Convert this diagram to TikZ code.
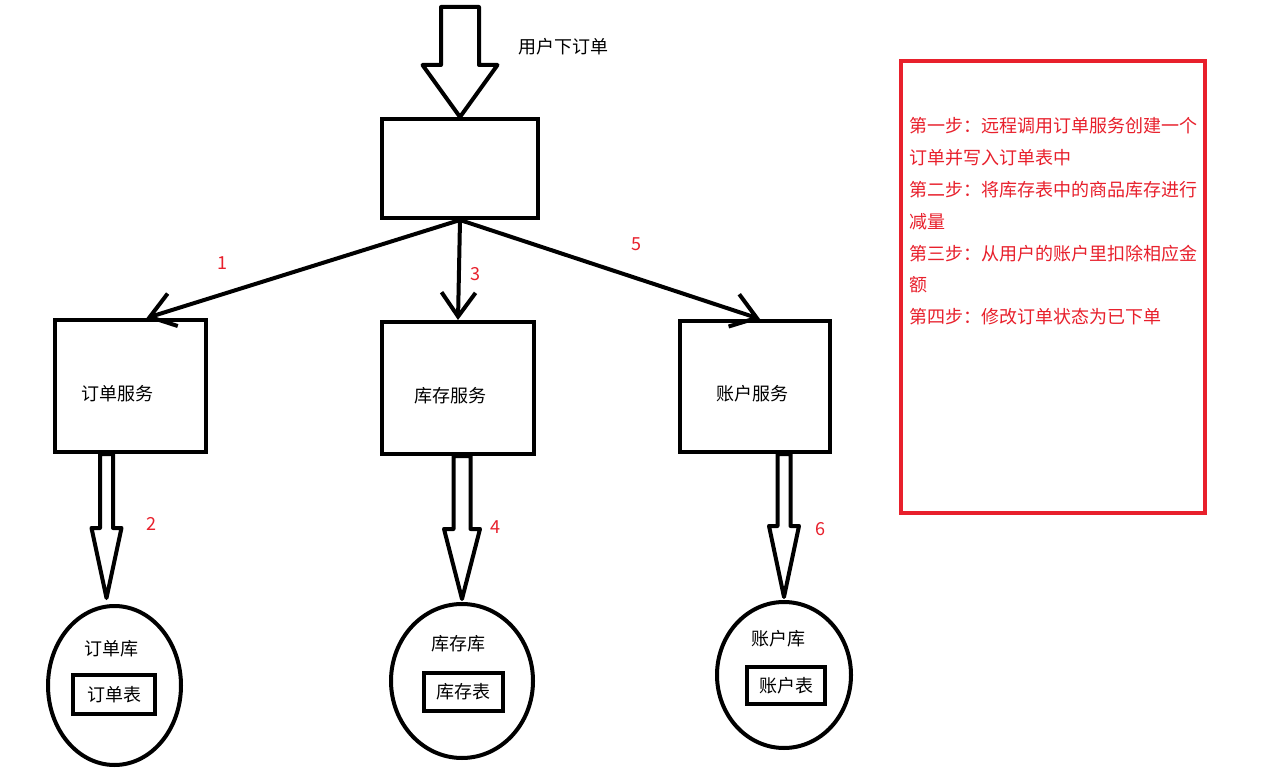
\documentclass[tikz,border=0pt]{standalone}
\usepackage{fontspec}
\setmainfont{Noto Sans CJK SC}
\usepackage{tikz}
\usetikzlibrary{arrows.meta}
\usetikzlibrary{shapes.geometric}
\usetikzlibrary{calc}
\definecolor{stepred}{RGB}{232,32,44}
\tikzset{box/.style = {draw, line width = 4pt, inner sep = 0, text height = 30pt, font = \fontsize{18}{20}\selectfont}}
\tikzset{db/.style = {draw, ellipse, line width = 4pt, inner sep = 0}}
\tikzset{tbl/.style = {draw, line width = 4pt, inner sep = 0, font = \fontsize{18}{20}\selectfont}}
\tikzset{txt/.style = {inner sep = 0, font = \fontsize{18}{20}\selectfont}}
\tikzset{num/.style = {inner sep = 0, text = stepred, font = \fontsize{18}{20}\selectfont}}
\tikzset{link/.style = {line width = 4pt, -{Straight Barb[length=24pt, width=34pt]}}}
\tikzset{hollow/.style = {draw, fill = white, line width = 4pt, line join = round}}
% hollow block arrow: from, to, half shaft, half head, head length
\newcommand{\hollowarrow}[5]{%
  \draw [hollow] let \p1 = (#1), \p2 = (#2) in
    (\x2-#3, \y1) -- (\x2-#3, \y2+#5) -- (\x2-#4, \y2+#5) -- (\x2, \y2)
    -- (\x2+#4, \y2+#5) -- (\x2+#3, \y2+#5) -- (\x2+#3, \y1) -- cycle;}

\begin{document}
\begin{tikzpicture}[x = 1pt, y = -1pt]
    \fill [white] (0, 0) rectangle (1274, 775);
    \useasboundingbox (0, 0) rectangle (1274, 775);

    % order entry
    \coordinate (user) at (462, 7);
    \node [box, minimum width = 156, minimum height = 99] (order) at (460, 168.5) {};
    \node [txt] (userlbl) at (563, 47) {用户下订单};

    % services
    \node [box, minimum width = 151, minimum height = 132] (svco) at (130.5, 386) {订单服务\kern26pt};
    \node [box, minimum width = 152, minimum height = 132] (svcs) at (458, 388) {库存服务\kern16pt};
    \node [box, minimum width = 150, minimum height = 131] (svca) at (755, 386.5) {账户服务\kern6pt};

    % databases
    \node [db, minimum width = 133, minimum height = 159] (dbo) at (114.5, 685.5) {};
    \node [db, minimum width = 142, minimum height = 154] (dbs) at (462, 681) {};
    \node [db, minimum width = 134, minimum height = 146] (dba) at (784, 675) {};
    \node [txt] (dbolbl) at (111, 649) {订单库};
    \node [txt] (dbslbl) at (458, 644) {库存库};
    \node [txt] (dbalbl) at (778, 639) {账户库};
    \node [tbl, minimum width = 82, minimum height = 39] (tblo) at (114, 694.5) {订单表};
    \node [tbl, minimum width = 79, minimum height = 38] (tbls) at (463.5, 692) {库存表};
    \node [tbl, minimum width = 78, minimum height = 37] (tbla) at (786, 685.5) {账户表};

    % calls
    \hollowarrow{user}{order.north}{19pt}{37.5pt}{52pt}
    \draw [link] (order.south) -- ([xshift = 16]svco.north);
    \draw [link] (order.south) -- (svcs.north);
    \draw [link] (order.south) -- ([xshift = 5]svca.north);
    \hollowarrow{svco.south}{[xshift = -8, yshift = 6]dbo.north}{6.5pt}{15pt}{70pt}
    \hollowarrow{svcs.south}{[yshift = 3]dbs.north}{8.5pt}{18pt}{70pt}
    \hollowarrow{svca.south}{[yshift = 3]dba.north}{6.5pt}{15pt}{71pt}

    \node [num] (n1) at (222, 263) {1};
    \node [num] (n2) at (151, 524) {2};
    \node [num] (n3) at (475, 274) {3};
    \node [num] (n4) at (495, 527) {4};
    \node [num] (n5) at (636, 244) {5};
    \node [num] (n6) at (820, 529) {6};

    % steps
    \node [draw = stepred, line width = 4pt, minimum width = 304, minimum height = 452, inner sep = 0] (steps) at (1053, 287) {};
    \node [anchor = north west, inner sep = 0, align = left, text = stepred,
           font = \fontsize{18}{31.8}\selectfont] (stepstxt) at (909, 117.5)
      {第一步：远程调用订单服务创建一个\\订单并写入订单表中\\第二步：将库存表中的商品库存进行\\减量\\第三步：从用户的账户里扣除相应金\\额\\第四步：修改订单状态为已下单};
  \end{tikzpicture}
\end{document}
